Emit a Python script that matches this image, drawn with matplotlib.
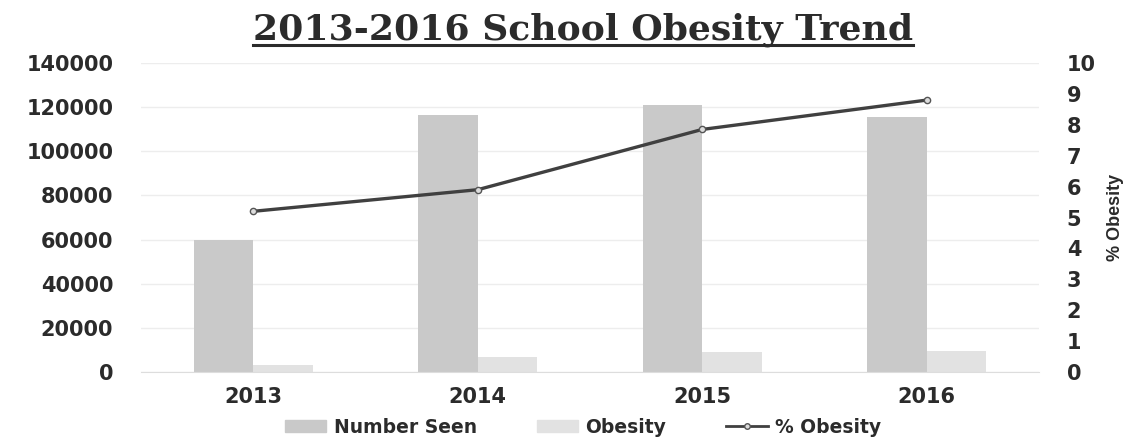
import matplotlib
matplotlib.use("Agg")
import matplotlib.pyplot as plt
import numpy as np
from matplotlib.lines import Line2D

years = ["2013", "2014", "2015", "2016"]
number_seen = [60000, 116500, 121000, 115500]
obesity = [3000, 6600, 9000, 9600]
pct_obesity = [5.2, 5.9, 7.85, 8.8]

left_ticks = [0, 20000, 40000, 60000, 80000, 100000, 120000, 140000]
right_ticks = list(range(0, 11))

text_col = "#2b2b2b"
seen_col = "#c9c9c9"
obes_col = "#e2e2e2"
line_col = "#404040"

fig = plt.figure(figsize=(11.36, 4.44), dpi=100)
ax = fig.add_axes([141 / 1136, 72 / 444, 898 / 1136, 309 / 444])

x = np.arange(len(years))
w = 0.265
ax.bar(x - w / 2, number_seen, w, color=seen_col, label="Number Seen", zorder=2)
ax.bar(x + w / 2, obesity, w, color=obes_col, label="Obesity", zorder=2)

ax.set_xlim(-0.5, 3.5)
ax.set_ylim(0, 140000)
ax.set_yticks(left_ticks)
ax.set_xticks(x)
ax.set_xticklabels(years)
ax.grid(axis="y", color="#ededed", linewidth=1, zorder=0)
for s in ["top", "right", "left"]:
    ax.spines[s].set_visible(False)
ax.spines["bottom"].set_color("#dddddd")
ax.tick_params(length=0, labelsize=15, labelcolor=text_col)
ax.tick_params(axis="y", pad=20)
ax.tick_params(axis="x", pad=11)
for t in ax.get_xticklabels() + ax.get_yticklabels():
    t.set_fontweight("bold")

# % obesity on its own 0-10 axis
ax2 = ax.twinx()
ax2.plot(x, pct_obesity, color=line_col, linewidth=2.4, marker="o",
         markersize=4.5, markerfacecolor="#dcdcdc", markeredgecolor="#555555",
         markeredgewidth=1, label="% Obesity", zorder=3)
ax2.set_ylim(0, 10)
ax2.set_yticks(right_ticks)
for s in ax2.spines.values():
    s.set_visible(False)
ax2.tick_params(length=0, labelsize=15, labelcolor=text_col, pad=20)
for t in ax2.get_yticklabels():
    t.set_fontweight("bold")
ax2.set_ylabel("% Obesity", fontsize=13, fontweight="bold", color=text_col,
               family="Liberation Sans", labelpad=8)

handles = [
    plt.Rectangle((0, 0), 1, 1, color=seen_col),
    plt.Rectangle((0, 0), 1, 1, color=obes_col),
    Line2D([0], [0], color=line_col, linewidth=2, marker="o", markersize=4,
           markerfacecolor="#dcdcdc", markeredgecolor="#555555"),
]
fig.legend(handles, ["Number Seen", "Obesity", "% Obesity"], loc="center",
           bbox_to_anchor=(583 / 1136, 1 - 427 / 444), ncol=3, frameon=False,
           prop={"weight": "bold", "size": 13.5}, labelcolor=text_col,
           handlelength=2.2, handleheight=0.6, columnspacing=3.2, handletextpad=0.4)

title = fig.text(583 / 1136, 1 - 30 / 444, "2013-2016 School Obesity Trend",
                 ha="center", va="center", fontsize=26, fontweight="bold",
                 family="DejaVu Serif", color=text_col)
# underline the title
fig.canvas.draw()
bb = title.get_window_extent().transformed(fig.transFigure.inverted())
fig.add_artist(Line2D([bb.x0, bb.x1], [bb.y0 + 0.004, bb.y0 + 0.004],
                      transform=fig.transFigure, color=text_col, linewidth=2.2))

fig.savefig("out.png", dpi=100, facecolor="white")
